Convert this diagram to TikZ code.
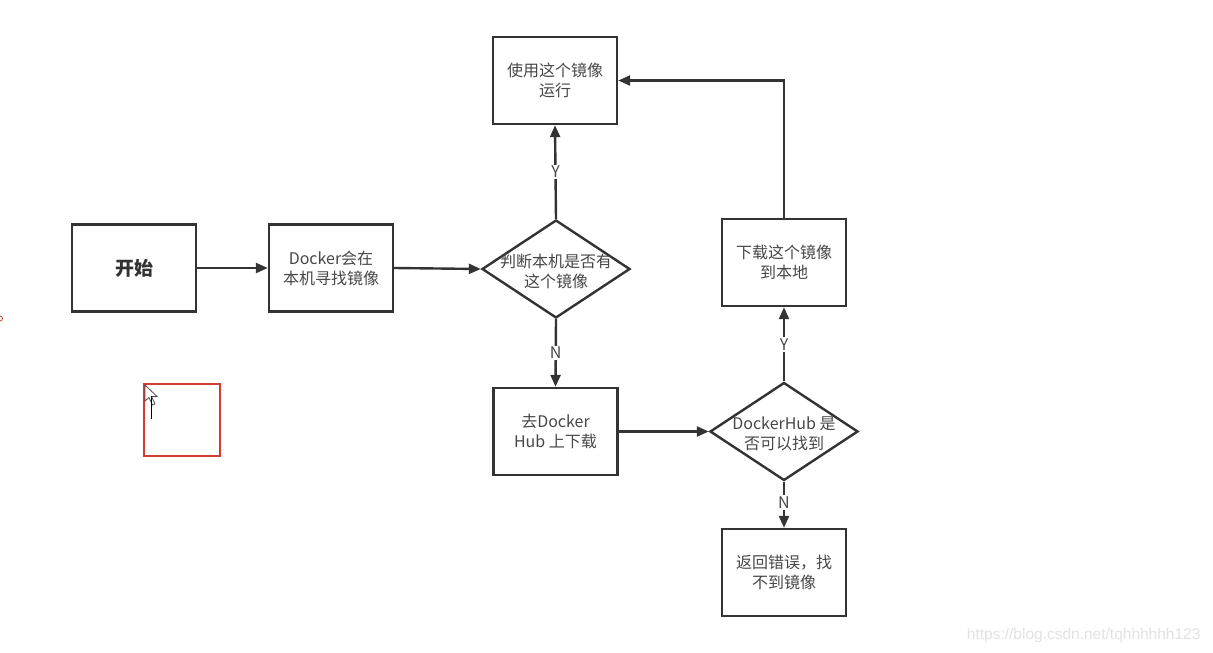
\documentclass[tikz,border=0pt]{standalone}
\usepackage{fontspec}
\setmainfont{Noto Sans CJK SC}
\usetikzlibrary{arrows.meta,shapes.geometric}
\definecolor{linec}{HTML}{333333}
\definecolor{textc}{HTML}{474747}
\definecolor{redc}{HTML}{D23A32}
\definecolor{wmc}{HTML}{E2E2E2}
\begin{document}
\begin{tikzpicture}[x=1pt,y=-1pt,
  box/.style={draw=linec,line width=2.4pt,minimum width=124pt,minimum height=87pt,inner sep=0pt,text=textc,font=\fontsize{16}{20}\selectfont,align=center},
  dia/.style={draw=linec,line width=2.4pt,diamond,minimum width=148pt,minimum height=98pt,inner sep=0pt},
  diatext/.style={text=textc,font=\fontsize{16}{20}\selectfont,align=center,inner sep=0pt},
  conn/.style={draw=linec,line width=2.4pt,-{Triangle[length=12pt,width=10pt]}},
  yn/.style={fill=white,text=textc,font=\fontsize{16}{18}\selectfont,inner sep=1.5pt}
]
\fill[white] (0,0) rectangle (1213,653);
\useasboundingbox (0,0) rectangle (1213,653);

\node[box,font=\bfseries\fontsize{19}{22}\selectfont,text=linec] (start) at (134,268) {开始};
\node[box] (find) at (331,268) {Docker会在\\本机寻找镜像};
\node[dia] (d1) at (556,269) {};
\node[diatext] (d1t) at (556,271) {判断本机是否有\\这个镜像};
\node[box] (run) at (555,80.5) {使用这个镜像\\运行};
\node[box] (hub) at (555.5,431.5) {去Docker\\Hub 上下载};
\node[dia] (d2) at (784,431.5) {};
\node[diatext] (d2t) at (784,434) {DockerHub 是\\否可以找到};
\node[box] (dl) at (784,262.5) {下载这个镜像\\到本地};
\node[box] (err) at (784,572.5) {返回错误，找\\不到镜像};

\draw[conn] (start.east) -- (find.west);
\draw[conn] (find.east) -- (d1.west);
\draw[conn] (d1.north) -- node[yn,pos=0.5]{Y} (run.south);
\draw[conn] (d1.south) -- node[yn,pos=0.5]{N} (hub.north);
\draw[conn] (hub.east) -- (d2.west);
\draw[conn] (d2.north) -- node[yn,pos=0.5]{Y} (dl.south);
\draw[conn] (d2.south) -- node[yn,pos=0.45]{N} (err.north);
\draw[conn] (dl.north) |- (run.east);

% red rectangle and cursor
\draw[redc,line width=2pt] (144,384) rectangle (220,456);
\draw[black!70,line width=0.8pt,fill=white] (145,385) -- (145,401) -- (149,397.5) -- (152.5,405) -- (155,404) -- (151.5,396.5) -- (157,396.5) -- cycle;
\draw[black,line width=1pt] (151,396) -- (151,419);
\draw[redc,line width=0.8pt] (0,321) arc (90:-90:2.5);

\node[anchor=east,text=wmc,font=\fontsize{15.5}{18}\selectfont] (wm) at (1204,635) {\fontspec{Liberation Sans}https://blog.csdn.net/tqhhhhhh123};
\end{tikzpicture}
\end{document}
